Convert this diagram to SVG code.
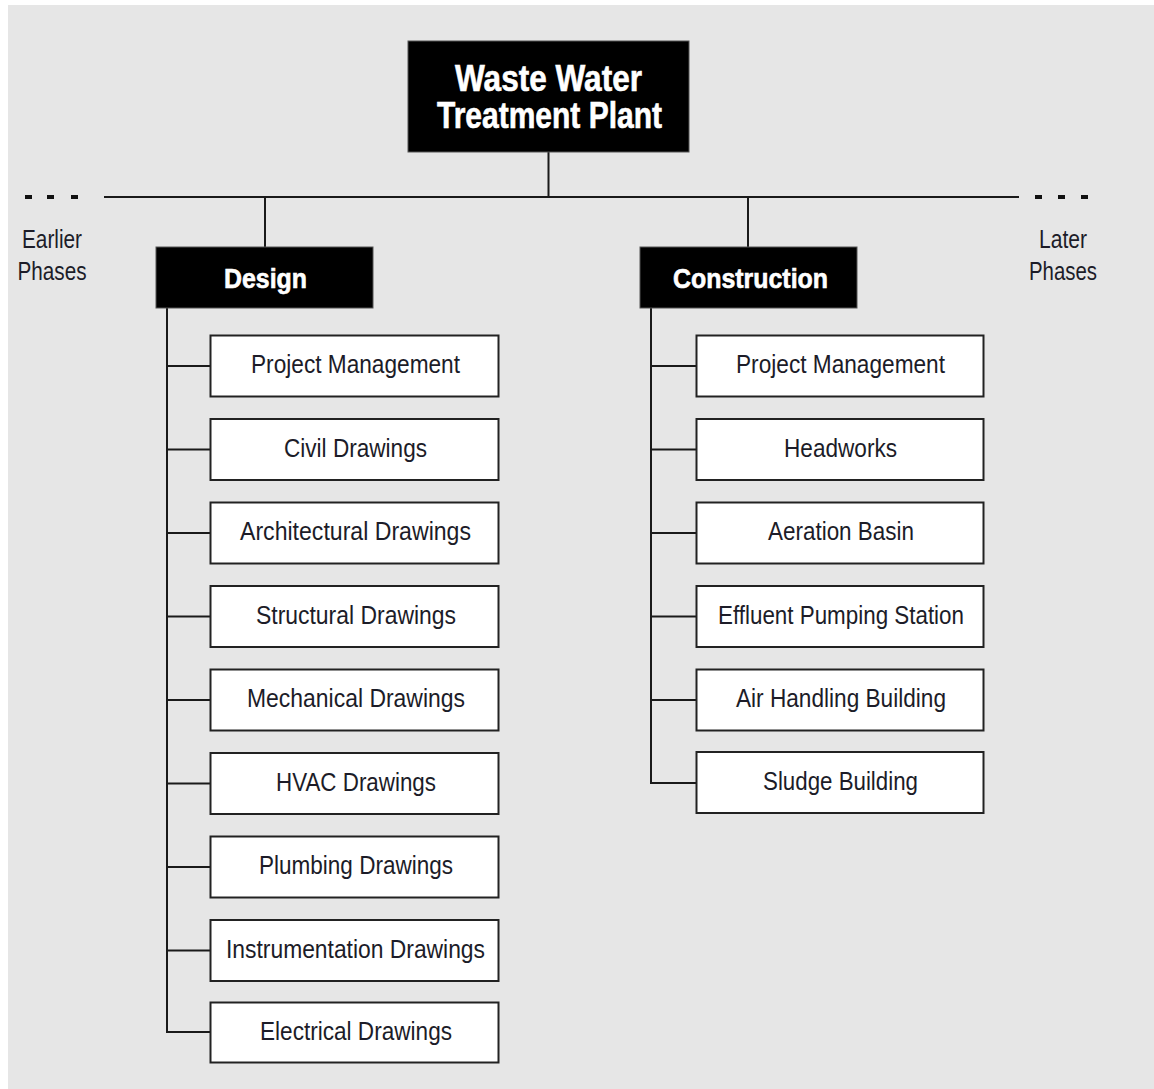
<svg xmlns="http://www.w3.org/2000/svg" width="1154" height="1089" viewBox="0 0 1154 1089">
  <defs>
    <style>
      .panel { fill: #e6e6e6; }
      .line { stroke: #1a1a1a; stroke-width: 2; fill: none; }
      .dot { fill: #111; }
      .head { fill: #000; stroke: #555; stroke-width: 1; }
      .item { fill: #fff; stroke: #222; stroke-width: 2; }
      .htxt { font-family: "Liberation Sans", Arial, sans-serif; font-weight: bold; fill: #fff; stroke: #fff; stroke-width: 0.6; text-anchor: middle; }
      .txt { font-family: "Liberation Sans", Arial, sans-serif; font-size: 26px; fill: #1c1c28; text-anchor: middle; }
    </style>
  </defs>

  <!-- background panel -->
  <rect class="panel" x="8" y="5" width="1146" height="1084"/>

  <!-- connectors -->
  <g id="connectors">
    <line class="line" x1="548.5" y1="152" x2="548.5" y2="197"/>
    <line class="line" x1="104" y1="197" x2="1019" y2="197"/>
    <line class="line" x1="265" y1="197" x2="265" y2="247"/>
    <line class="line" x1="748" y1="197" x2="748" y2="247"/>
    <!-- design spine and branches -->
    <line class="line" x1="167" y1="308" x2="167" y2="1033"/>
    <line class="line" x1="166" y1="366" x2="210" y2="366"/>
    <line class="line" x1="166" y1="449.5" x2="210" y2="449.5"/>
    <line class="line" x1="166" y1="533" x2="210" y2="533"/>
    <line class="line" x1="166" y1="616.5" x2="210" y2="616.5"/>
    <line class="line" x1="166" y1="700" x2="210" y2="700"/>
    <line class="line" x1="166" y1="783.5" x2="210" y2="783.5"/>
    <line class="line" x1="166" y1="867" x2="210" y2="867"/>
    <line class="line" x1="166" y1="950.5" x2="210" y2="950.5"/>
    <line class="line" x1="166" y1="1032" x2="210" y2="1032"/>
    <!-- construction spine and branches -->
    <line class="line" x1="651" y1="308" x2="651" y2="784"/>
    <line class="line" x1="650" y1="366" x2="696" y2="366"/>
    <line class="line" x1="650" y1="449.5" x2="696" y2="449.5"/>
    <line class="line" x1="650" y1="533" x2="696" y2="533"/>
    <line class="line" x1="650" y1="616.5" x2="696" y2="616.5"/>
    <line class="line" x1="650" y1="700" x2="696" y2="700"/>
    <line class="line" x1="650" y1="783" x2="696" y2="783"/>
    <!-- continuation dots -->
    <rect class="dot" x="25" y="195" width="7" height="4"/>
    <rect class="dot" x="47" y="195" width="7" height="4"/>
    <rect class="dot" x="71" y="195" width="7" height="4"/>
    <rect class="dot" x="1035" y="195" width="7" height="4"/>
    <rect class="dot" x="1058" y="195" width="7" height="4"/>
    <rect class="dot" x="1081" y="195" width="7" height="4"/>
  </g>

  <!-- side phase labels -->
  <g id="earlier-phases">
    <text class="txt" x="52" y="248" textLength="60" lengthAdjust="spacingAndGlyphs">Earlier</text>
    <text class="txt" x="52" y="280" textLength="69" lengthAdjust="spacingAndGlyphs">Phases</text>
  </g>
  <g id="later-phases">
    <text class="txt" x="1063" y="248" textLength="48" lengthAdjust="spacingAndGlyphs">Later</text>
    <text class="txt" x="1063" y="280" textLength="68" lengthAdjust="spacingAndGlyphs">Phases</text>
  </g>

  <!-- root -->
  <g id="plant">
    <rect class="head" x="408" y="41" width="281" height="111"/>
    <text class="htxt" x="548.5" y="91" font-size="36" textLength="187" lengthAdjust="spacingAndGlyphs">Waste Water</text>
    <text class="htxt" x="549.5" y="128" font-size="36" textLength="225" lengthAdjust="spacingAndGlyphs">Treatment Plant</text>
  </g>

  <!-- phases -->
  <g id="design">
    <rect class="head" x="156" y="247" width="217" height="61"/>
    <text class="htxt" x="265.5" y="288" font-size="27" textLength="83" lengthAdjust="spacingAndGlyphs">Design</text>
  </g>
  <g id="construction">
    <rect class="head" x="640" y="247" width="217" height="61"/>
    <text class="htxt" x="750.5" y="288" font-size="27" textLength="155" lengthAdjust="spacingAndGlyphs">Construction</text>
  </g>

  <!-- design deliverables -->
  <g id="d-project-management">
    <rect class="item" x="210.5" y="335.5" width="288" height="61"/>
    <text class="txt" x="355.5" y="373" textLength="209" lengthAdjust="spacingAndGlyphs">Project Management</text>
  </g>
  <g id="d-civil">
    <rect class="item" x="210.5" y="419" width="288" height="61"/>
    <text class="txt" x="355.5" y="456.5" textLength="143" lengthAdjust="spacingAndGlyphs">Civil Drawings</text>
  </g>
  <g id="d-architectural">
    <rect class="item" x="210.5" y="502.5" width="288" height="61"/>
    <text class="txt" x="355.5" y="540" textLength="231" lengthAdjust="spacingAndGlyphs">Architectural Drawings</text>
  </g>
  <g id="d-structural">
    <rect class="item" x="210.5" y="586" width="288" height="61"/>
    <text class="txt" x="356" y="623.5" textLength="200" lengthAdjust="spacingAndGlyphs">Structural Drawings</text>
  </g>
  <g id="d-mechanical">
    <rect class="item" x="210.5" y="669.5" width="288" height="61"/>
    <text class="txt" x="356" y="707" textLength="218" lengthAdjust="spacingAndGlyphs">Mechanical Drawings</text>
  </g>
  <g id="d-hvac">
    <rect class="item" x="210.5" y="753" width="288" height="61"/>
    <text class="txt" x="356" y="790.5" textLength="160" lengthAdjust="spacingAndGlyphs">HVAC Drawings</text>
  </g>
  <g id="d-plumbing">
    <rect class="item" x="210.5" y="836.5" width="288" height="61"/>
    <text class="txt" x="356" y="874" textLength="194" lengthAdjust="spacingAndGlyphs">Plumbing Drawings</text>
  </g>
  <g id="d-instrumentation">
    <rect class="item" x="210.5" y="920" width="288" height="61"/>
    <text class="txt" x="355.5" y="957.5" textLength="259" lengthAdjust="spacingAndGlyphs">Instrumentation Drawings</text>
  </g>
  <g id="d-electrical">
    <rect class="item" x="210.5" y="1002.5" width="288" height="60"/>
    <text class="txt" x="356" y="1040" textLength="192" lengthAdjust="spacingAndGlyphs">Electrical Drawings</text>
  </g>

  <!-- construction packages -->
  <g id="c-project-management">
    <rect class="item" x="696.5" y="335.5" width="287" height="61"/>
    <text class="txt" x="840.5" y="373" textLength="209" lengthAdjust="spacingAndGlyphs">Project Management</text>
  </g>
  <g id="c-headworks">
    <rect class="item" x="696.5" y="419" width="287" height="61"/>
    <text class="txt" x="840.5" y="456.5" textLength="113" lengthAdjust="spacingAndGlyphs">Headworks</text>
  </g>
  <g id="c-aeration-basin">
    <rect class="item" x="696.5" y="502.5" width="287" height="61"/>
    <text class="txt" x="841" y="540" textLength="146" lengthAdjust="spacingAndGlyphs">Aeration Basin</text>
  </g>
  <g id="c-effluent-pumping">
    <rect class="item" x="696.5" y="586" width="287" height="61"/>
    <text class="txt" x="841" y="623.5" textLength="246" lengthAdjust="spacingAndGlyphs">Effluent Pumping Station</text>
  </g>
  <g id="c-air-handling">
    <rect class="item" x="696.5" y="669.5" width="287" height="61"/>
    <text class="txt" x="841" y="707" textLength="210" lengthAdjust="spacingAndGlyphs">Air Handling Building</text>
  </g>
  <g id="c-sludge">
    <rect class="item" x="696.5" y="752" width="287" height="61"/>
    <text class="txt" x="840.5" y="790" textLength="155" lengthAdjust="spacingAndGlyphs">Sludge Building</text>
  </g>
</svg>
